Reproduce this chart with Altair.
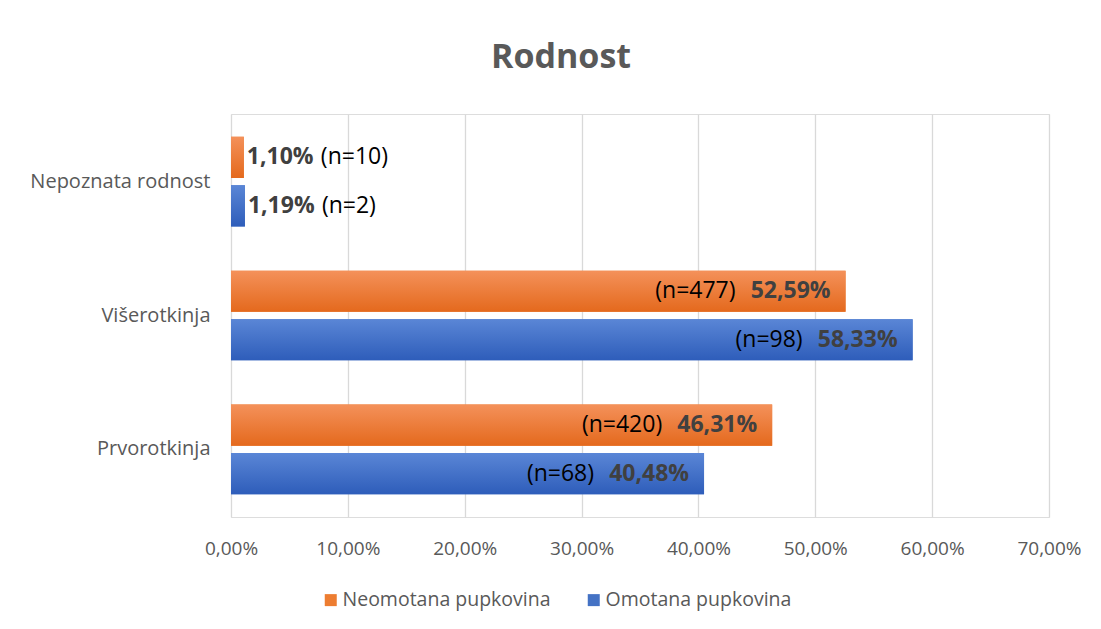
import altair as alt
import pandas as pd

categories = ["Nepoznata rodnost", "Višerotkinja", "Prvorotkinja"]
series = ["Neomotana pupkovina", "Omotana pupkovina"]
neomotana_pct = [1.10, 52.59, 46.31]
omotana_pct = [1.19, 58.33, 40.48]
neomotana_n = [10, 477, 420]
omotana_n = [2, 98, 68]
x_ticks = [0, 10, 20, 30, 40, 50, 60, 70]
colors = ["#ED7D31", "#4472C4"]

rows = []
for i, c in enumerate(categories):
    for s, pcts, ns in [(series[0], neomotana_pct, neomotana_n), (series[1], omotana_pct, omotana_n)]:
        p = pcts[i]
        rows.append({
            "cat": c,
            "series": s,
            "pct": p,
            "pct_label": f"{p:.2f}%".replace(".", ","),
            "n_label": f"(n={ns[i]})",
            "inside": p > 10,
        })
df = pd.DataFrame(rows)

FONT = "Open Sans"

y_enc = alt.Y("cat:N", sort=categories, title=None,
              scale=alt.Scale(paddingInner=0.33, paddingOuter=0.17),
              axis=alt.Axis(labelFont=FONT, labelFontSize=20, labelColor="#595959",
                            ticks=False, domain=False, labelPadding=21, labelLimit=0,
                            minExtent=210, maxExtent=210))
yoff = alt.YOffset("series:N", sort=series, scale=alt.Scale(paddingInner=0.15))
x_enc = alt.X("pct:Q", title=None,
              scale=alt.Scale(domain=[0, 70], nice=False),
              axis=alt.Axis(values=x_ticks, labelExpr="replace(format(datum.value, '.2f'), '.', ',') + '%'",
                            labelFont=FONT, labelFontSize=19, labelColor="#595959",
                            labelAlign="center", labelFlush=False,
                            ticks=False, domain=False, labelPadding=22,
                            grid=True, gridColor="#D9D9D9", gridWidth=1.3))

base = alt.Chart(df)

bars = base.mark_bar().encode(
    y=y_enc, yOffset=yoff, x=x_enc,
    color=alt.Color("series:N", sort=series,
                    scale=alt.Scale(domain=series, range=colors),
                    legend=alt.Legend(title=None, orient="none", direction="horizontal",
                                      legendX=90, legendY=476, padding=0,
                                      symbolType="square", symbolSize=144,
                                      labelFont=FONT, labelFontSize=19.5, labelColor="#595959",
                                      labelLimit=0, labelOffset=2, columnPadding=33,
                                      symbolStrokeWidth=0)),
)

grad_orange = alt.Gradient(gradient="linear", x1=0, y1=0, x2=0, y2=1,
                           stops=[alt.GradientStop(color="#F4915A", offset=0),
                                  alt.GradientStop(color="#E4691D", offset=1)])
grad_blue = alt.Gradient(gradient="linear", x1=0, y1=0, x2=0, y2=1,
                         stops=[alt.GradientStop(color="#5A86D6", offset=0),
                                alt.GradientStop(color="#2E5DBA", offset=1)])

y_plain = alt.Y("cat:N", sort=categories)
bars_o = base.transform_filter(alt.datum.series == series[0]).mark_bar(color=grad_orange).encode(
    y=y_plain, yOffset=yoff, x="pct:Q")
bars_b = base.transform_filter(alt.datum.series == series[1]).mark_bar(color=grad_blue).encode(
    y=y_plain, yOffset=yoff, x="pct:Q")

inside = base.transform_filter("datum.inside")
outside = base.transform_filter("!datum.inside")

pct_in = inside.mark_text(align="right", baseline="middle", dx=-15, font=FONT,
                          fontSize=23, fontWeight="bold", color="#404040").encode(
    y=y_plain, yOffset=yoff, x="pct:Q", text="pct_label:N")
n_in = inside.mark_text(align="right", baseline="middle", dx=-110, font=FONT,
                        fontSize=23, color="#000000").encode(
    y=y_plain, yOffset=yoff, x="pct:Q", text="n_label:N")
pct_out = outside.mark_text(align="left", baseline="middle", dx=3, font=FONT,
                            fontSize=23, fontWeight="bold", color="#404040").encode(
    y=y_plain, yOffset=yoff, x="pct:Q", text="pct_label:N")
n_out = outside.mark_text(align="left", baseline="middle", dx=77, font=FONT,
                          fontSize=23, color="#000000").encode(
    y=y_plain, yOffset=yoff, x="pct:Q", text="n_label:N")

chart = alt.layer(bars, bars_o, bars_b, pct_in, n_in, pct_out, n_out).properties(
    width=818, height=403,
    padding={"left": 13, "top": 33, "right": 0, "bottom": 5},
    title=alt.TitleParams("Rodnost", font=FONT, fontSize=34, fontWeight="bold",
                          color="#595959", anchor="middle", dx=-79, offset=39),
).configure_view(strokeWidth=0).configure(background="white")

chart.save("out.html", embed_options={"renderer": "svg", "actions": False})
